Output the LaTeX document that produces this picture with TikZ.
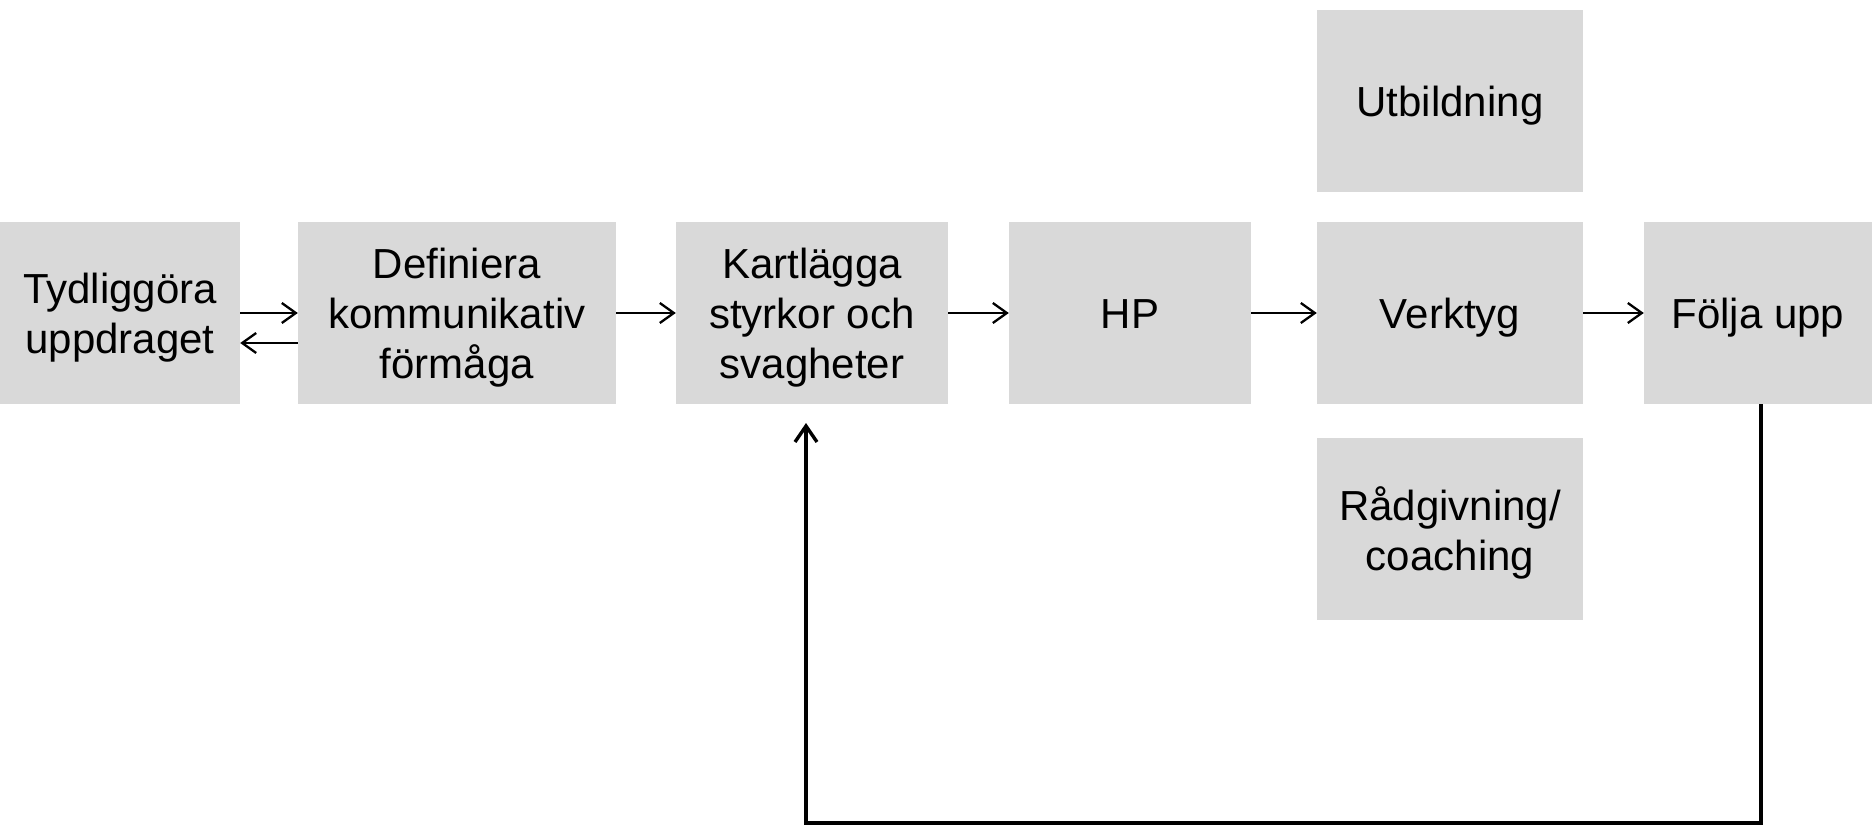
\documentclass[tikz,border=0pt]{standalone}
\usepackage{fontspec}
\setmainfont{Liberation Sans}
\usetikzlibrary{arrows.meta}
\definecolor{boxgray}{HTML}{D9D9D9}
\newcommand\lowtxt[1]{\raisebox{-6pt}[\height][\depth]{\begin{tabular}{@{}c@{}}#1\end{tabular}}}
\begin{document}
\begin{tikzpicture}[x=1pt,y=-1pt,
  box/.style={fill=boxgray, draw=none, align=center, inner sep=0pt,
    font=\fontsize{42}{50}\selectfont, minimum height=182pt},
  conn/.style={line width=2.3pt, -{Straight Barb[length=14pt,width=20pt]}},
  fb/.style={line width=3.4pt, -{Straight Barb[length=16pt,width=22pt]}}]
\useasboundingbox (0,0) rectangle (1872,826);
\node[box, minimum width=240pt] (tyd) at (120,313) {\lowtxt{Tydliggöra\\uppdraget}};
\node[box, minimum width=318pt] (def) at (457,313) {\lowtxt{Definiera\\kommunikativ\\förmåga}};
\node[box, minimum width=272pt] (kar) at (812,313) {\lowtxt{Kartlägga\\styrkor och\\svagheter}};
\node[box, minimum width=242pt] (hp) at (1130,313) {\lowtxt{HP}};
\node[box, minimum width=266pt] (ver) at (1450,313) {\lowtxt{Verktyg}};
\node[box, minimum width=266pt] (utb) at (1450,101) {\lowtxt{Utbildning}};
\node[box, minimum width=266pt] (rad) at (1450,529) {\lowtxt{Rådgivning/\\coaching}};
\node[box, minimum width=228pt] (fol) at (1758,313) {\lowtxt{Följa upp}};
\draw[conn] (tyd.east) -- (def.west);
\draw[conn] ([yshift=-30pt]def.west) -- ([yshift=-30pt]tyd.east);
\draw[conn] (def.east) -- (kar.west);
\draw[conn] (kar.east) -- (hp.west);
\draw[conn] (hp.east) -- (ver.west);
\draw[conn] (ver.east) -- (fol.west);
\coordinate (fbtip) at (806,423);
\draw[fb] ([xshift=3pt]fol.south) |- (806,823) -- (fbtip);
\end{tikzpicture}
\end{document}
